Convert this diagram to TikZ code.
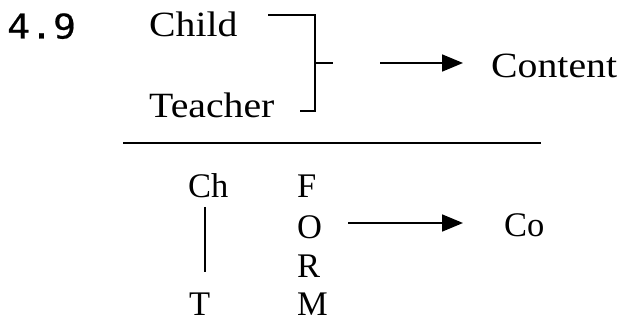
\documentclass[tikz,border=0pt]{standalone}
\usepackage{fontspec}
\setmainfont{Liberation Serif}
\newfontfamily\topfont[FakeStretch=1.12]{Liberation Serif}
\newfontfamily\numfont[FakeStretch=1.12,FakeBold=0.6]{DejaVu Sans Mono}
\usetikzlibrary{arrows.meta}
\begin{document}
\begin{tikzpicture}[x=1pt,y=1pt,
  txt/.style={inner sep=0pt, anchor=base west},
  topt/.style={txt, font=\topfont\fontsize{35.5}{40}\selectfont},
  bott/.style={txt, font=\fontsize{34.5}{38}\selectfont},
  ln/.style={line width=1.8pt},
  arr/.style={ln, -{Triangle[length=21pt,width=17pt]}}]
\useasboundingbox (0,0) rectangle (626,-320);
\node[txt, font=\numfont\fontsize{34}{40}\selectfont] (num) at (7,-38.5) {4.9};
\node[topt] (child) at (149,-37) {Child};
\node[topt] (teacher) at (149,-118) {Teacher};
\node[topt] (content) at (491,-78) {Content};
\coordinate (b1) at (268,-15);
\coordinate (b2) at (315,-15);
\coordinate (b3) at (315,-111);
\coordinate (b4) at (300,-111);
\coordinate (bm) at (315,-63);
\coordinate (bt) at (333,-63);
\draw[ln] (b1) -- (b2) -- (b3) -- (b4);
\draw[ln] (bm) -- (bt);
\coordinate (a1s) at (380,-63);
\coordinate (a1e) at (463,-63);
\draw[arr] (a1s) -- (a1e);
\coordinate (r1) at (123,-143);
\coordinate (r2) at (541,-143);
\draw[line width=2.6pt] (r1) -- (r2);
\node[bott] (ch) at (188,-198) {Ch};
\node[bott] (t) at (189,-315.5) {T};
\node[bott] (f) at (297,-197.3) {F};
\node[bott] (o) at (297,-238.3) {O};
\node[bott] (r) at (297,-277.3) {R};
\node[bott] (m) at (297,-315.5) {M};
\node[bott] (co) at (504,-236.5) {Co};
\coordinate (v1) at (205,-207);
\coordinate (v2) at (205,-272);
\draw[ln] (v1) -- (v2);
\coordinate (a2s) at (348,-223);
\coordinate (a2e) at (463,-223);
\draw[arr] (a2s) -- (a2e);
\end{tikzpicture}
\end{document}
